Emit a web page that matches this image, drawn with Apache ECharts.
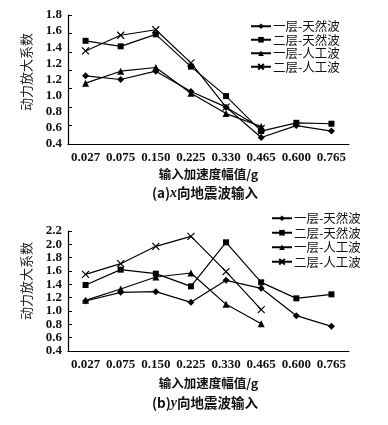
<!DOCTYPE html>
<html><head><meta charset="utf-8">
<script src="https://cdn.jsdelivr.net/npm/echarts@6/dist/echarts.min.js"></script>
<style>html,body{margin:0;padding:0;background:#fff}#c{width:388px;height:425px}</style>
</head><body><div id="c"></div>
<script>
const categories = ['0.027','0.075','0.150','0.225','0.330','0.465','0.600','0.765'];
const seriesNames = ['一层-天然波','二层-天然波','一层-人工波','二层-人工波'];
// (a) x-direction input
const xL1Nat = [1.14, 1.10, 1.19, 0.97, 0.80, 0.47, 0.60, 0.54];
const xL2Nat = [1.52, 1.46, 1.59, 1.24, 0.92, 0.54, 0.63, 0.62];
const xL1Art = [1.06, 1.19, 1.23, 0.95, 0.73, 0.59, null, null];
const xL2Art = [1.41, 1.58, 1.64, 1.28, 0.80, 0.57, null, null];
// (b) y-direction input
const yL1Nat = [1.15, 1.28, 1.29, 1.13, 1.46, 1.34, 0.93, 0.77];
const yL2Nat = [1.39, 1.62, 1.56, 1.37, 2.03, 1.43, 1.19, 1.25];
const yL1Art = [1.16, 1.33, 1.51, 1.57, 1.10, 0.81, null, null];
const yL2Art = [1.55, 1.71, 1.97, 2.12, 1.59, 1.02, null, null];
// tick labels as printed in the figure
const topTickLabels = ['0.4','0.6','0.8','1.0','1.2','1.2','1.4','1.6','1.8'];
const bottomTickLabels = ['0.4','0.6','0.8','1.0','1.2','1.4','1.6','1.8','2.0','2.2'];
const yName = '动力放大系数';
const xName = '输入加速度幅值/g';

const chart = echarts.init(document.getElementById('c'));
const numFont = {fontFamily:'Liberation Serif', fontWeight:'bold', fontSize:13, color:'#111'};
const cross = 'path://M0,0L10,10M10,0L0,10';
const symbols = ['diamond','rect','triangle', cross];
const sizes = [7,6,7,7];

function mkSeries(data, idx, grid){
  const s = {
    name: seriesNames[idx], type:'line', data:data,
    xAxisIndex: grid, yAxisIndex: grid*2,
    symbol: symbols[idx], symbolSize: sizes[idx],
    lineStyle:{color:'#000', width:1.2},
    itemStyle:{color:'#000'},
    animation:false, connectNulls:false
  };
  if (idx===3) s.itemStyle = {color:'#000', borderColor:'#000', borderWidth:1.2};
  return s;
}
const grids = [
  {left:68, right:39, top:15, height:129},
  {left:68, right:39, top:231, height:120}
];
function xAx(g, gap){
  return {type:'category', gridIndex:g, data:categories, boundaryGap:true,
    axisLine:{lineStyle:{color:'#000', width:1.2}},
    axisTick:{inside:true, length:4, lineStyle:{color:'#000'}},
    axisLabel:Object.assign({margin:7, interval:0}, numFont),
    name:xName, nameLocation:'middle', nameGap:gap,
    nameTextStyle:{fontFamily:'Noto Sans CJK SC', fontWeight:'bold', fontSize:12.5, color:'#111'}};
}
const legendText = {fontFamily:'Noto Sans CJK SC', fontSize:12.5, color:'#111', padding:[0,0,0,-3]};
const option = {
  animation:false,
  backgroundColor:'#fff',
  grid: grids,
  xAxis:[xAx(0,24), xAx(1,26)],
  yAxis:[
    {type:'value', gridIndex:0, min:0.4, max:1.8, interval:0.2,
      axisLine:{show:true, lineStyle:{color:'#000', width:1.2}},
      axisTick:{show:true, inside:true, length:4, lineStyle:{color:'#000'}},
      axisLabel:{show:false}, splitLine:{show:false}},
    {type:'value', gridIndex:0, min:0, max:8, interval:1, position:'left',
      axisLine:{show:false}, axisTick:{show:false}, splitLine:{show:false},
      axisLabel:Object.assign({margin:6, formatter:(v)=>topTickLabels[Math.round(v)]}, numFont)},
    {type:'value', gridIndex:1, min:0.4, max:2.2, interval:0.2,
      axisLine:{show:true, lineStyle:{color:'#000', width:1.2}},
      axisTick:{show:true, inside:true, length:4, lineStyle:{color:'#000'}},
      axisLabel:{show:false}, splitLine:{show:false}},
    {type:'value', gridIndex:1, min:0, max:9, interval:1, position:'left',
      axisLine:{show:false}, axisTick:{show:false}, splitLine:{show:false},
      axisLabel:Object.assign({margin:6, formatter:(v)=>bottomTickLabels[Math.round(v)]}, numFont)}
  ],
  legend:[
    {orient:'vertical', left:250, top:20, itemWidth:20, itemHeight:7, itemGap:1,
     data:seriesNames, selectedMode:false, padding:0,
     textStyle:legendText},
    {orient:'vertical', left:271, top:212, itemWidth:20, itemHeight:7, itemGap:2,
     data:seriesNames, selectedMode:false, padding:0,
     textStyle:legendText}
  ],
  series:[
    mkSeries(xL1Nat,0,0), mkSeries(xL2Nat,1,0), mkSeries(xL1Art,2,0), mkSeries(xL2Art,3,0),
    mkSeries(yL1Nat,0,1), mkSeries(yL2Nat,1,1), mkSeries(yL1Art,2,1), mkSeries(yL2Art,3,1)
  ],
  graphic:[
    {type:'text', x:26, y:72, rotation:Math.PI/2,
      style:{text:yName, fontFamily:'Noto Sans CJK SC', fontSize:13, fill:'#222', align:'center', verticalAlign:'middle'}},
    {type:'text', x:26, y:281, rotation:Math.PI/2,
      style:{text:yName, fontFamily:'Noto Sans CJK SC', fontSize:13, fill:'#222', align:'center', verticalAlign:'middle'}},
    {type:'text', x:205, y:193,
      style:{text:'(a){i|x}向地震波输入', fontFamily:'Noto Sans CJK SC', fontWeight:'bold', fontSize:13.5, fill:'#111', align:'center', verticalAlign:'middle',
        rich:{i:{fontFamily:'Liberation Serif', fontStyle:'italic', fontWeight:'bold', fontSize:14}}}},
    {type:'text', x:205, y:403,
      style:{text:'(b){i|y}向地震波输入', fontFamily:'Noto Sans CJK SC', fontWeight:'bold', fontSize:13.5, fill:'#111', align:'center', verticalAlign:'middle',
        rich:{i:{fontFamily:'Liberation Serif', fontStyle:'italic', fontWeight:'bold', fontSize:14}}}}
  ]
};
chart.setOption(option);
</script></body></html>
